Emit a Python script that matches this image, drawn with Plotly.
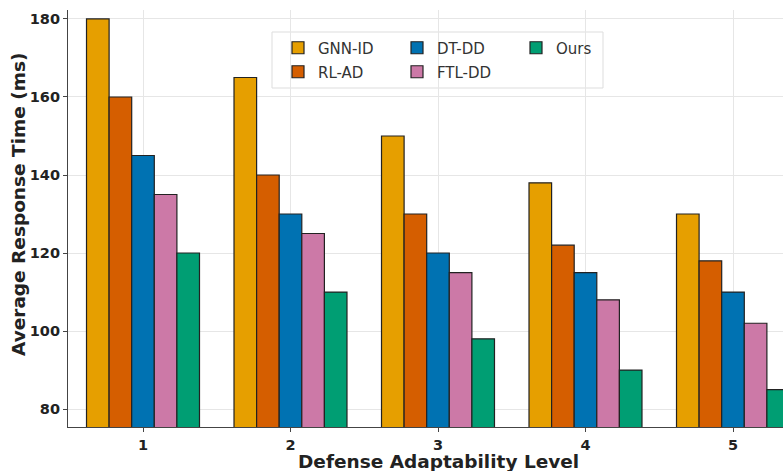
import plotly.graph_objects as go

# Defense adaptability levels and average response time (ms) per method
levels = [1, 2, 3, 4, 5]
methods = ["GNN-ID", "RL-AD", "DT-DD", "FTL-DD", "Ours"]
gnn_id = [180, 165, 150, 138, 130]
rl_ad = [160, 140, 130, 122, 118]
dt_dd = [145, 130, 120, 115, 110]
ftl_dd = [135, 125, 115, 108, 102]
ours = [120, 110, 98, 90, 85]

series = [gnn_id, rl_ad, dt_dd, ftl_dd, ours]
colors = ["#E69F00", "#D55E00", "#0072B2", "#CC79A7", "#009E73"]
# first legend row holds GNN-ID, DT-DD, Ours; second row RL-AD, FTL-DD
legend_of = ["legend", "legend2", "legend", "legend2", "legend"]
rank_of = [1, 1, 2, 2, 3]

fig = go.Figure()
for name, vals, col, lg, rk in zip(methods, series, colors, legend_of, rank_of):
    fig.add_trace(go.Bar(
        x=levels, y=vals, name=name,
        marker=dict(color=col, line=dict(color="#222222", width=1.2)),
        legend=lg, legendrank=rk,
    ))

W, H = 783, 471
ml, mr, mt, mb = 68, 0, 10, 44
pw, ph = W - ml - mr, H - mt - mb

def px_x(p):
    return (p - ml) / pw

def px_y(p):
    return (H - mb - p) / ph

legend_font = dict(family="DejaVu Sans", size=15, color="#333333")
common_legend = dict(
    orientation="h", xanchor="left", yanchor="middle",
    bgcolor="rgba(0,0,0,0)", borderwidth=0, font=legend_font,
    entrywidth=74, entrywidthmode="pixels", itemwidth=30,
)

title_font = dict(family="DejaVu Sans", size=18.5, color="#222222", weight="bold")
tick_font = dict(family="DejaVu Sans", size=14.5, color="#222222", weight="bold")

fig.update_layout(
    width=W, height=H,
    margin=dict(l=ml, r=mr, t=mt, b=mb),
    paper_bgcolor="white", plot_bgcolor="white",
    barmode="group", bargap=0.234, bargroupgap=0,
    showlegend=True,
    legend=dict(x=px_x(278), y=px_y(48), **common_legend),
    legend2=dict(x=px_x(278), y=px_y(72), **common_legend),
    shapes=[dict(
        type="rect", xref="paper", yref="paper",
        x0=px_x(272), x1=px_x(603), y0=px_y(88), y1=px_y(32),
        line=dict(color="#dddddd", width=1), fillcolor="rgba(255,255,255,0.8)",
        layer="below",
    )],
    annotations=[
        dict(text="Defense Adaptability Level", xref="paper", yref="paper",
             x=px_x(438), y=px_y(462), xanchor="center", yanchor="middle",
             showarrow=False, font=title_font),
        dict(text="Average Response Time (ms)", xref="paper", yref="paper",
             x=px_x(18), y=px_y(205), xanchor="center", yanchor="middle",
             textangle=-90, showarrow=False, font=title_font),
    ],
    xaxis=dict(
        range=[0.4915, 5.339], tickmode="array", tickvals=levels,
        ticktext=[str(v) for v in levels],
        showgrid=True, gridcolor="#e6e6e6", gridwidth=1,
        showline=True, linecolor="#444444", linewidth=1.2,
        ticks="outside", ticklen=4, tickcolor="#444444",
        tickfont=tick_font, zeroline=False,
    ),
    yaxis=dict(
        range=[75.4, 182.3], tickmode="array", tickvals=[80, 100, 120, 140, 160, 180],
        showgrid=True, gridcolor="#e6e6e6", gridwidth=1,
        showline=True, linecolor="#444444", linewidth=1.2,
        ticks="outside", ticklen=4, tickcolor="#444444",
        tickfont=tick_font, zeroline=False,
    ),
)

fig.write_html("out.html")
